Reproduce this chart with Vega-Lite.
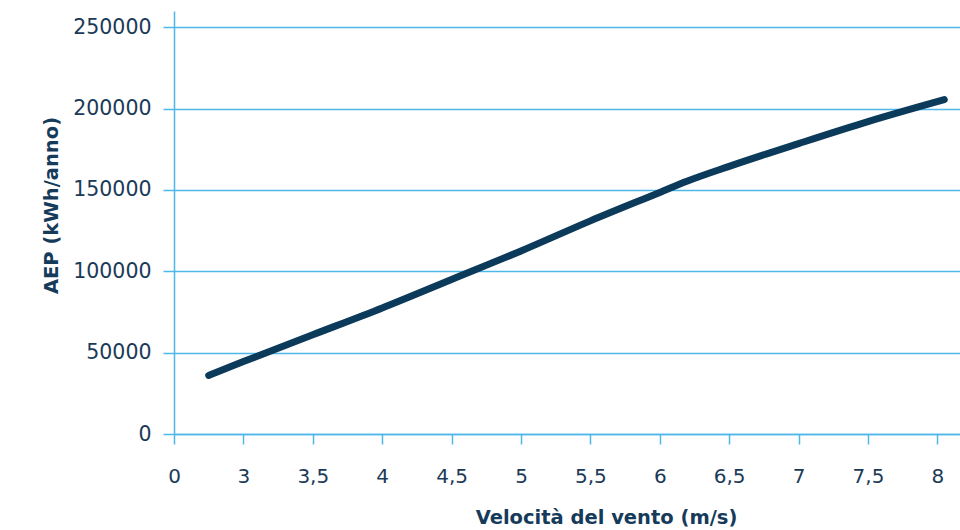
{
  "$schema": "https://vega.github.io/schema/vega-lite/v6.json",
  "width": 786,
  "height": 423,
  "autosize": "none",
  "padding": {"left": 174, "top": 11, "right": 0, "bottom": 96},
  "background": "white",
  "config": {"view": {"stroke": null}, "font": "DejaVu Sans"},
  "data": {"values": [
    {"v": 2.75, "aep": 36000},
    {"v": 3.0, "aep": 44500},
    {"v": 3.5, "aep": 61000},
    {"v": 4.0, "aep": 77500},
    {"v": 4.5, "aep": 95000},
    {"v": 5.0, "aep": 112500},
    {"v": 5.5, "aep": 131000},
    {"v": 6.0, "aep": 148500},
    {"v": 6.2, "aep": 155500},
    {"v": 6.5, "aep": 164500},
    {"v": 7.0, "aep": 178500},
    {"v": 7.5, "aep": 192000},
    {"v": 8.05, "aep": 205500}
  ]},
  "mark": {"type": "line", "color": "#0c3a5b", "strokeWidth": 7, "strokeCap": "round", "strokeJoin": "round", "interpolate": "monotone"},
  "encoding": {
    "x": {
      "field": "v", "type": "quantitative",
      "scale": {"domain": [2.5, 8.163], "nice": false, "zero": false},
      "axis": {
        "title": "Velocità del vento (m/s)",
        "values": [2.5, 3, 3.5, 4, 4.5, 5, 5.5, 6, 6.5, 7, 7.5, 8],
        "labelExpr": "datum.value == 2.5 ? '0' : replace(format(datum.value, '~g'), '.', ',')",
        "grid": false,
        "domainColor": "#4cb9e8", "domainWidth": 1.5,
        "tickColor": "#4cb9e8", "tickSize": 10, "tickWidth": 1.5,
        "labelFont": "DejaVu Sans", "labelFontSize": 20, "labelColor": "#1b3a57",
        "labelBaseline": "middle", "labelPadding": 32,
        "labelFlush": false,
        "titleFont": "DejaVu Sans", "titleFontSize": 19.5, "titleFontWeight": "bold", "titleColor": "#163b5a",
        "titleX": 432, "titleY": 89, "titleBaseline": "alphabetic", "titleAnchor": null
      }
    },
    "y": {
      "field": "aep", "type": "quantitative",
      "scale": {"domain": [0, 260000], "nice": false},
      "axis": {
        "title": "AEP (kWh/anno)",
        "values": [0, 50000, 100000, 150000, 200000, 250000],
        "format": "d",
        "grid": true, "gridColor": "#4cb9e8", "gridWidth": 1.5,
        "domainColor": "#4cb9e8", "domainWidth": 1.5,
        "tickColor": "#4cb9e8", "tickSize": 11, "tickWidth": 1.5,
        "labelFont": "DejaVu Sans", "labelFontSize": 20.5, "labelColor": "#1b3a57", "labelPadding": 12,
        "titleFont": "DejaVu Sans", "titleFontSize": 19.5, "titleFontWeight": "bold", "titleColor": "#163b5a",
        "titlePadding": 11, "titleY": 194, "titleAnchor": null
      }
    }
  }
}
